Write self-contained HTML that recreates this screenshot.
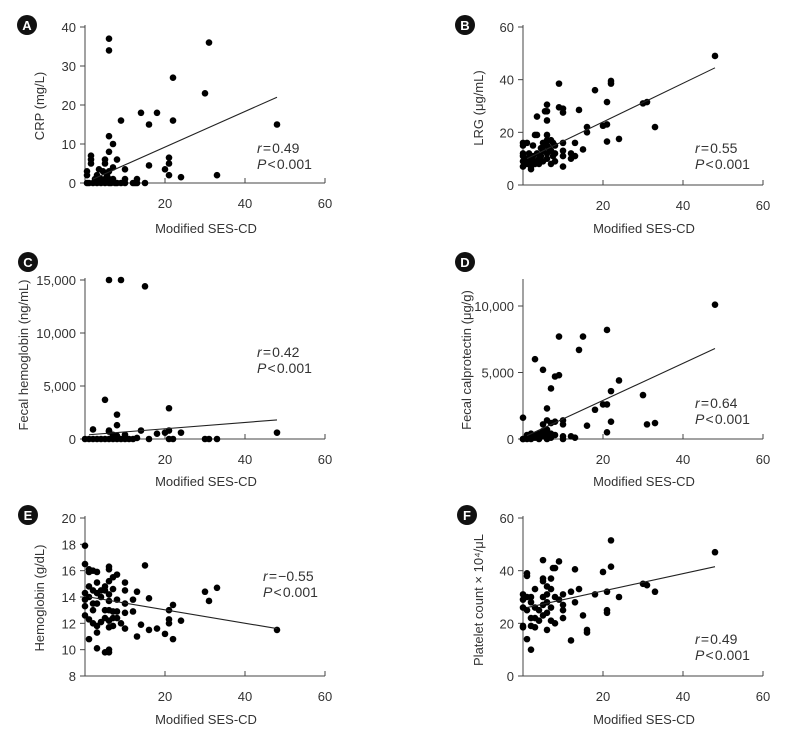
<!DOCTYPE html>
<html><head><meta charset="utf-8">
<style>
body{margin:0;background:#fff;}
svg{display:block;font-family:"Liberation Sans",sans-serif;}
</style></head>
<body>
<svg id="chart" width="793" height="740" viewBox="0 0 793 740"></svg>
<script>
const xTicks=[20,40,60];
const aX=[0.5,0.5,0.5,1.5,1.5,1.5,1,2,2.5,3,3,3.5,4,4,4.5,5,5,5,5,5.5,6,6,6,6,6,6,6,6.5,7,7,7,7.5,8,8,9,9,10,10,10,12,12.5,13,13,14,15,16,16,18,20,21,21,21,22,22,24,30,31,33,48];
const aY=[0,2,3,7,6,5,0,0,1,0,2,3.5,0,1,3,0,1,6,5,2,0,1,3,12,8,34,37,0,4,10,1,0,6,0,16,0,3.5,1,0,0,0,1,0,18,0,15,4.5,18,3.5,6.5,5,2,27,16,1.5,23,36,2,15];
const bX=[0,0,0,0,0,0,1,1,1,1.5,2,2,2,2,2.5,2.5,3,3,3,3.5,3.5,3.5,4,4,4.5,4.5,5,5,5,5.5,5.5,6,6,6,6,6,6,6,6,6.5,7,7,7,7.5,7.5,8,8,8,9,9,10,10,10,10,10,10,12,12,13,13,14,15,16,16,18,20,21,21,21,22,22,24,30,31,33,48];
const bY=[16,15,12,11,9,7,16,10,8,12,10,9,7,6,15,11,19,9,8,26,19,12,10,8,14,11,16,13,9,28,15,30.5,28,24.5,19,17,15,12,10,14,17,13,8,16,11,15,12,9,38.5,29.5,29,27.5,16,13,11,7,12,10,16,11,28.5,13.5,22,20,36,22.5,23,31.5,16.5,39.5,38.5,17.5,31,31.5,22,49];
const cX=[0,1,2,3,4,5,6,7,8,9,2,5,6,6,7,7,8,8,8,9,6,15,10,14,18,20,21,21,24,48,30,31,33,22,21,16,12,13,10,11];
const cY=[0,0,0,0,0,0,0,0,0,0,900,3700,800,700,400,300,2300,1300,300,15000,15000,14400,400,800,500,600,2900,800,600,600,0,0,0,0,0,0,0,100,0,0];
const dX=[0,0,1,1,2,2,3,3,4,4,5,5,6,6,7,7,8,0,3,5,5,6,6,6,7,7,8,8,9,9,10,10,10,10,12,13,14,15,16,18,20,21,21,21,22,22,24,30,31,33,48];
const dY=[0,1600,0,300,0,400,100,300,0,400,200,600,0,300,100,400,300,0,6000,5200,1100,2300,1400,700,3800,1200,4700,1300,7700,4800,1400,1100,200,0,200,100,6700,7700,1000,2200,2600,2600,8200,500,3600,1300,4400,3300,1100,1200,10100];
const eX=[0,0,0,0,0,0,1,1,1,1,1,1,2,2,2,2,2,3,3,3,3,3,3,3,4,4,4,5,5,5,5,5,6,6,6,6,6,6,6,6,6,6,7,7,7,7,7,8,8,8,8,9,10,10,10,10,10,12,12,13,13,14,15,16,16,18,20,21,21,21,22,22,24,30,31,33,48];
const eY=[17.9,16.5,14.3,13.8,13.3,12.6,16.1,15.9,14.8,14,12.3,10.8,16,14.5,13.5,13,12,15.9,15.1,14.3,13.5,11.8,11.3,10.1,14.5,14,12.1,14.8,14.5,13,12.4,9.8,16.3,16.1,15.2,14.2,13.7,13,12.2,11.7,9.8,10,15.5,14.6,12.9,11.8,12.4,15.7,13.8,12.9,12.4,12,15.1,14.5,13.5,12.8,11.6,13.8,12.9,14.4,11,11.9,16.4,13.9,11.5,11.6,11.2,13,12.3,12,13.4,10.8,12.2,14.4,13.7,14.7,11.5];
const fX=[0,0,0,0,0,1,1,1,1,1,2,2,2,2,2,3,3,3,3,4,4,5,5,5,5,5,5,6,6,6,6,6,7,7,7,7,7.5,8,8,8,9,9,10,10,10,10,12,12,13,13,14,15,16,16,18,20,21,21,21,22,22,24,30,31,33,48];
const fY=[31,29,26,19,18.5,39,38,30,25,14,30,28,22,19,10,33,26,22,18.5,25,21,44,37,36,30,27,23,34,31,28,24,17.5,37,33,26,21,41,41,30,20,43.5,29,31,27,25,22,32,13.5,40.5,28,33,23,17.5,16.5,31,39.5,32,25,24,51.5,41.5,30,35,34.5,32,47];
const aLine=[[2,1],[48,22]], bLine=[[1,10],[48,44.5]], cLine=[[1,400],[48,1800]], dLine=[[1,250],[48,6800]], eLine=[[1,14],[48,11.6]], fLine=[[1,26],[48,41.5]];
const aTicks=[0,10,20,30,40], bTicks=[0,20,40,60], cTicks=[0,5000,10000,15000], dTicks=[0,5000,10000], eTicks=[8,10,12,14,16,18,20], fTicks=[0,20,40,60];
const NS="http://www.w3.org/2000/svg";
const svg=document.getElementById('chart');
function mk(tag,attrs,parent,text){const e=document.createElementNS(NS,tag);for(const k in attrs)e.setAttribute(k,attrs[k]);if(text!==undefined)e.textContent=text;(parent||svg).appendChild(e);return e;}
function fmt(v){return v.toLocaleString('en-US');}
function panel(p){
  const g=mk('g',{});
  
  
  const xs=v=>p.ox+v*4;
  const ys=v=>p.y0-(v-p.ymin)*(p.y0-p.yTopPx)/(p.ymax-p.ymin);
  const ya=mk('line',{x1:p.ox,y1:p.axisTop,x2:p.ox,y2:p.y0,stroke:'#444','stroke-width':1},g);
  
  
  p.yt.forEach(t=>{const y=ys(t);
    mk('line',{x1:p.ox-5,y1:y,x2:p.ox,y2:y,stroke:'#444'},g);
    const tl=mk('text',{x:p.ox-9,y:y+5,'text-anchor':'end','font-size':13,fill:'#333'},g,fmt(t));
    
    
  });
  const xa=mk('line',{x1:p.ox,y1:p.y0,x2:xs(60),y2:p.y0,stroke:'#444'},g);
  
  
  xTicks.forEach(t=>{const x=xs(t);
    mk('line',{x1:x,y1:p.y0-5,x2:x,y2:p.y0,stroke:'#444'},g);
    const tl=mk('text',{x:x,y:p.y0+25,'text-anchor':'middle','font-size':13,fill:'#333'},g,t);
    
    
  });
  const xt=mk('text',{x:xs(30)+1,y:p.xTitleY,'text-anchor':'middle','font-size':13,fill:'#333'},g,'Modified SES-CD');
  
  
  const yt=mk('text',{x:0,y:0,'text-anchor':'middle','font-size':13,fill:'#333',transform:`translate(${p.yTitleX},${p.yTitleY}) rotate(-90)`},g,p.ytitle);
  
  
  p.X.forEach((x,i)=>{const c=mk('circle',{cx:xs(x),cy:ys(p.Y[i]),r:3.3,fill:'#000'},g);
    
    
  });
  const rl=mk('line',{x1:xs(p.L[0][0]),y1:ys(p.L[0][1]),x2:xs(p.L[1][0]),y2:ys(p.L[1][1]),stroke:'#222','stroke-width':1.1},g);
  
  
  const s1=mk('text',{x:p.sx,y:p.sy,'font-size':14,fill:'#333'},g);
  s1.innerHTML='<tspan font-style="italic">r</tspan>\u200a=\u200a'+p.r;
  
  
  const s2=mk('text',{x:p.sx,y:p.sy+16,'font-size':14,fill:'#333'},g);
  s2.innerHTML='<tspan font-style="italic">P</tspan>\u200a&lt;\u200a0.001';
  
  
  const bc=mk('circle',{cx:p.bx,cy:p.by,r:10,fill:'#111'},g);
  
  
  mk('text',{x:p.bx,y:p.by+5,'text-anchor':'middle','font-size':13,'font-weight':'bold',fill:'#fff'},g,p.id);
}
panel({id:'A',X:aX,Y:aY,L:aLine,yt:aTicks,ox:85,y0:183,yTopPx:27,ymin:0,ymax:40,axisTop:25,xTitleY:233,yTitleX:44,yTitleY:106,ytitle:'CRP (mg/L)',sx:257,sy:153,r:'0.49',bx:27,by:25});
panel({id:'B',X:bX,Y:bY,L:bLine,yt:bTicks,ox:523,y0:185,yTopPx:27,ymin:0,ymax:60,axisTop:25,xTitleY:233,yTitleX:483,yTitleY:108,ytitle:'LRG (\u03bcg/mL)',sx:695,sy:153,r:'0.55',bx:465,by:25});
panel({id:'C',X:cX,Y:cY,L:cLine,yt:cTicks,ox:85,y0:439,yTopPx:280,ymin:0,ymax:15000,axisTop:278,xTitleY:486,yTitleX:28,yTitleY:355,ytitle:'Fecal hemoglobin (ng/mL)',sx:257,sy:357,r:'0.42',bx:28,by:262});
panel({id:'D',X:dX,Y:dY,L:dLine,yt:dTicks,ox:523,y0:439,yTopPx:306,ymin:0,ymax:10000,axisTop:279,xTitleY:486,yTitleX:471,yTitleY:360,ytitle:'Fecal calprotectin (\u03bcg/g)',sx:695,sy:408,r:'0.64',bx:465,by:262});
panel({id:'E',X:eX,Y:eY,L:eLine,yt:eTicks,ox:85,y0:676,yTopPx:518,ymin:8,ymax:20,axisTop:516,xTitleY:724,yTitleX:44,yTitleY:598,ytitle:'Hemoglobin (g/dL)',sx:263,sy:581,r:'\u22120.55',bx:28,by:515});
panel({id:'F',X:fX,Y:fY,L:fLine,yt:fTicks,ox:523,y0:676,yTopPx:518,ymin:0,ymax:60,axisTop:516,xTitleY:724,yTitleX:483,yTitleY:600,ytitle:'Platelet count \u00d7 10\u2074/\u03bcL',sx:695,sy:644,r:'0.49',bx:467,by:515});
</script>
</body></html>
